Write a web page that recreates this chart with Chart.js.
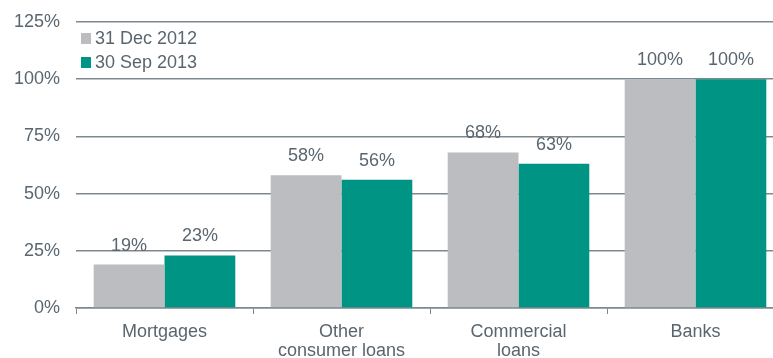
<!DOCTYPE html>
<html>
<head>
<meta charset="utf-8">
<script src="https://cdn.jsdelivr.net/npm/chart.js@4/dist/chart.umd.min.js"></script>
<style>
  html, body { margin: 0; padding: 0; background: #fff; overflow: hidden; }
  #wrap { width: 784px; height: 358px; position: relative; }
</style>
</head>
<body>
<div id="wrap"><canvas id="c"></canvas></div>
<script>
// Loan categories and the share held at each date (%)
const categories = ["Mortgages", ["Other", "consumer loans"], ["Commercial", "loans"], "Banks"];
const seriesNames = ["31 Dec 2012", "30 Sep 2013"];
const dec2012 = [19, 58, 68, 100];
const sep2013 = [23, 56, 63, 100];
const yTicks = [0, 25, 50, 75, 100, 125];

const GREY = "#bbbdc1";
const TEAL = "#009485";
const TEXT = "#5a666f";
const LINE = "#7e898f";
const FONT = "'Liberation Sans', Arial, sans-serif";

// Percentage labels above each bar
const valueLabels = {
  id: "valueLabels",
  afterDatasetsDraw(chart) {
    const ctx = chart.ctx;
    ctx.save();
    ctx.font = "18px " + FONT;
    ctx.fillStyle = TEXT;
    ctx.textAlign = "center";
    ctx.textBaseline = "alphabetic";
    chart.data.datasets.forEach((ds, i) => {
      chart.getDatasetMeta(i).data.forEach((bar, j) => {
        ctx.fillText(ds.data[j] + "%", bar.x, bar.y - 14);
      });
    });
    ctx.restore();
  }
};

// Legend drawn inside the plot, top left
const insideLegend = {
  id: "insideLegend",
  afterDraw(chart) {
    const ctx = chart.ctx;
    const a = chart.chartArea;
    ctx.save();
    ctx.font = "18px " + FONT;
    ctx.textBaseline = "middle";
    chart.data.datasets.forEach((ds, i) => {
      const y = a.top + 16 + i * 24;
      ctx.fillStyle = ds.backgroundColor;
      ctx.fillRect(a.left + 5, y - 5, 10, 11);
      ctx.fillStyle = TEXT;
      ctx.fillText(ds.label, a.left + 19, y + 1);
    });
    ctx.restore();
  }
};

new Chart(document.getElementById("c"), {
  type: "bar",
  data: {
    labels: categories,
    datasets: [
      { label: seriesNames[0], data: dec2012, backgroundColor: GREY },
      { label: seriesNames[1], data: sep2013, backgroundColor: TEAL }
    ]
  },
  options: {
    responsive: true,
    maintainAspectRatio: false,
    animation: false,
    layout: { padding: { top: 22, right: 0, left: 0, bottom: 0 } },
    datasets: { bar: { categoryPercentage: 0.8, barPercentage: 1.0 } },
    plugins: { legend: { display: false }, tooltip: { enabled: false } },
    scales: {
      x: {
        afterFit: s => { s.height = 50; },
        grid: { display: true, offset: true, drawOnChartArea: false, tickLength: 6, color: LINE },
        border: { display: true, color: LINE, width: 1.5 },
        ticks: { color: TEXT, font: { family: FONT, size: 18, lineHeight: 1.08 }, padding: 8, maxRotation: 0, autoSkip: false }
      },
      y: {
        min: 0, max: 125,
        afterFit: s => { s.width = 76; s.paddingTop = 0; s.paddingBottom = 0; },
        afterBuildTicks: s => { s.ticks = yTicks.map(v => ({ value: v })); },
        grid: { drawTicks: false, color: LINE, lineWidth: 1.5 },
        border: { display: false },
        ticks: { color: TEXT, font: { family: FONT, size: 18 }, padding: 16, callback: v => v + "%" }
      }
    }
  },
  plugins: [valueLabels, insideLegend]
});
</script>
</body>
</html>
